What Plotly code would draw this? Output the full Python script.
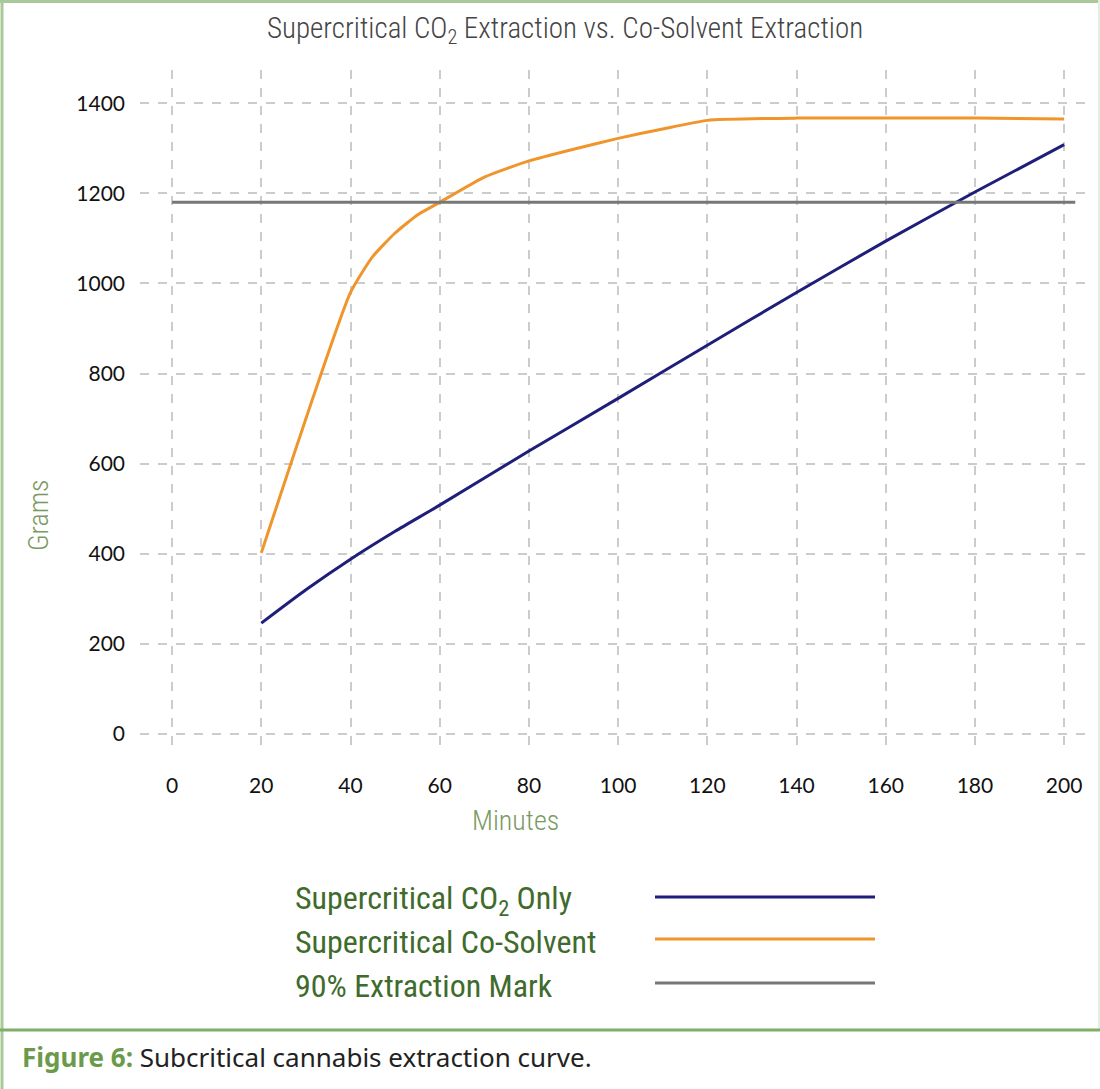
import plotly.graph_objects as go

# ---- data ----
co2_minutes = [20, 30, 40, 50, 60, 80, 100, 120, 140, 160, 180, 200]
co2_grams = [246, 320, 388, 450, 508, 628, 745, 863, 980, 1094, 1203, 1308]

cosolvent_minutes = [20, 40, 45, 50, 55, 60, 70, 80, 90, 100, 110, 120, 140, 160, 180, 200]
cosolvent_grams = [402, 980, 1060, 1112, 1152, 1180, 1236, 1272, 1298, 1322, 1343, 1362, 1367, 1367, 1367, 1365]

mark_minutes = [0, 202.5]
mark_grams = [1180, 1180]

x_ticks = [0, 20, 40, 60, 80, 100, 120, 140, 160, 180, 200]
y_ticks = [0, 200, 400, 600, 800, 1000, 1200, 1400]

legend_labels = ["Supercritical CO<sub>2</sub> Only", "Supercritical Co-Solvent", "90% Extraction Mark"]
colors = ["#1f1f7a", "#f0952b", "#777777"]

W, H = 1100, 1089
L, R, T, B = 140, 10, 70, 339
PW, PH = W - L - R, H - T - B


def px(x):
    return (x - L) / PW


def py(y):
    return (H - B - y) / PH


cond = "Roboto Condensed, DejaVu Sans Condensed, Liberation Sans Narrow, Roboto, sans-serif"
green = "#3f6b2c"

fig = go.Figure()
fig.add_trace(go.Scatter(x=co2_minutes, y=co2_grams, mode="lines", line=dict(color=colors[0], width=3, shape="spline", smoothing=0.6), name=legend_labels[0]))
fig.add_trace(go.Scatter(x=cosolvent_minutes, y=cosolvent_grams, mode="lines", line=dict(color=colors[1], width=3, shape="spline", smoothing=0.5), name=legend_labels[1]))
fig.add_trace(go.Scatter(x=mark_minutes, y=mark_grams, mode="lines", line=dict(color=colors[2], width=3), name=legend_labels[2]))

grid = dict(showgrid=True, gridcolor="#cccccc", gridwidth=2, griddash="dash", zeroline=False, showline=False, ticks="")
tickfont = dict(family="Lato, Noto Sans, sans-serif", size=21, color="#111")
fig.update_xaxes(range=[-7.2, 205.8], tickvals=x_ticks, ticklabelstandoff=21, tickfont=tickfont, **grid)
fig.update_yaxes(range=[-35.5, 1473.8], tickvals=y_ticks, ticklabelstandoff=14, tickfont=tickfont, **grid)


def ann(x, y, text, font, xanchor="center", **kw):
    return dict(x=px(x), y=py(y), xref="paper", yref="paper", showarrow=False,
                xanchor=xanchor, yanchor="middle", text=text, font=font, **kw)


anns = [
    ann(565, 30, "Supercritical CO<sub>2</sub> Extraction vs. Co-Solvent Extraction",
        dict(family=cond, size=29, color="#444444", weight=300)),
    ann(515, 820, "Minutes", dict(family=cond, size=28, color="#7a9a62", weight=300)),
    ann(38, 515, "Grams", dict(family=cond, size=28, color="#7a9a62", weight=300), textangle=-90),
]
ys = [900, 942, 986]
shapes = []
for lab, c, yy in zip(legend_labels, colors, ys):
    anns.append(ann(293, yy, lab, dict(family=cond, size=32, color=green), xanchor="left"))
    shapes.append(dict(type="line", xref="paper", yref="paper", x0=px(655), x1=px(875),
                       y0=py(yy - 3), y1=py(yy - 3), line=dict(color=c, width=3)))
anns.append(ann(20, 1057,
                "<b><span style='color:#6a9a4a'>Figure 6:</span></b> Subcritical cannabis extraction curve.",
                dict(family="Noto Sans, Lato, sans-serif", size=26, color="#222"), xanchor="left"))

border = "#a9c99a"
shapes += [
    dict(type="line", xref="paper", yref="paper", x0=px(0), x1=px(1100), y0=py(1.5), y1=py(1.5), line=dict(color=border, width=3)),
    dict(type="line", xref="paper", yref="paper", x0=px(2), x1=px(2), y0=py(0), y1=py(1089), line=dict(color=border, width=3)),
    dict(type="line", xref="paper", yref="paper", x0=px(1099), x1=px(1099), y0=py(0), y1=py(1030), line=dict(color="#e4efdd", width=2)),
    dict(type="line", xref="paper", yref="paper", x0=px(0), x1=px(1100), y0=py(1030), y1=py(1030), line=dict(color="#7fae6a", width=3)),
]

fig.update_layout(width=W, height=H, margin=dict(l=L, r=R, t=T, b=B), showlegend=False,
                  plot_bgcolor="white", paper_bgcolor="white", annotations=anns, shapes=shapes)
fig.write_html("out.html", config={"displayModeBar": False},
               post_script="document.body.style.margin='0';document.body.style.overflow='hidden';")
